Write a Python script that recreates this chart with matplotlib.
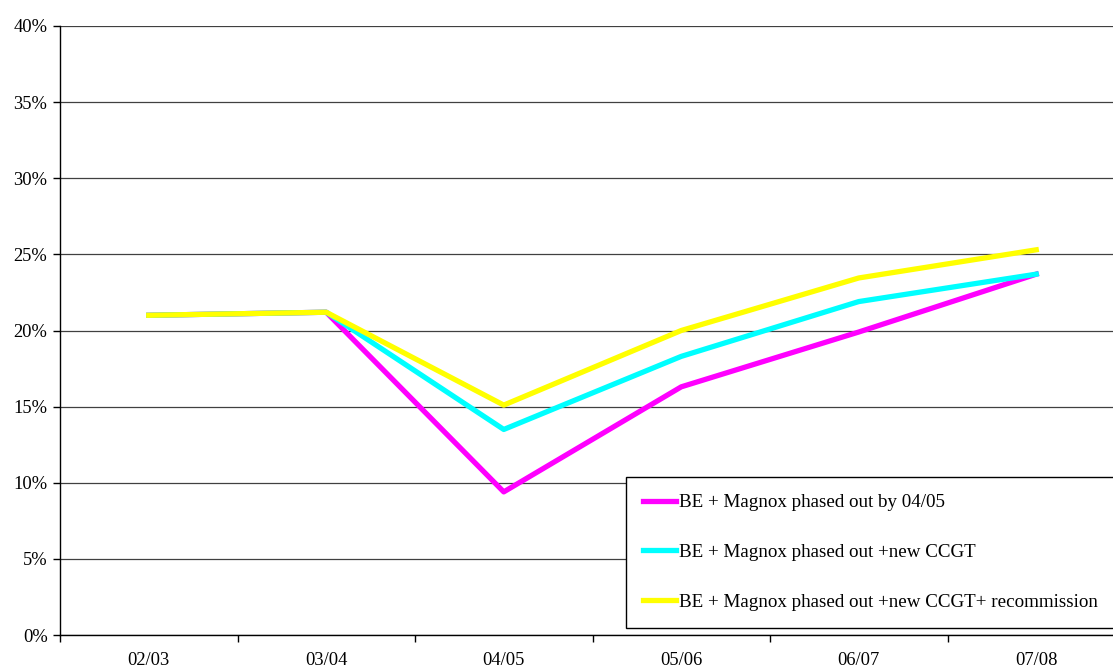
import matplotlib.pyplot as plt

plt.rcParams['font.family'] = ['Liberation Serif', 'DejaVu Serif']

# category labels and series values (percent)
years = ['02/03', '03/04', '04/05', '05/06', '06/07', '07/08']
be_magnox = [21.0, 21.2, 9.4, 16.3, 19.9, 23.7]
be_magnox_ccgt = [21.0, 21.2, 13.5, 18.3, 21.9, 23.7]
be_magnox_ccgt_recomm = [21.0, 21.2, 15.1, 20.0, 23.45, 25.3]

W, H = 1113, 669
fig = plt.figure(figsize=(W / 100, H / 100), dpi=100)
# plot area runs past the right edge of the picture, as in the original
ax = fig.add_axes([60 / W, 34 / H, 1065 / W, 609 / H])

x = [i + 0.5 for i in range(len(years))]
ax.plot(x, be_magnox, color='#FF00FF', lw=3.8, label='BE + Magnox phased out by 04/05')
ax.plot(x, be_magnox_ccgt, color='#00FFFF', lw=3.8, label='BE + Magnox phased out +new CCGT')
ax.plot(x, be_magnox_ccgt_recomm, color='#FFFF00', lw=3.8,
        label='BE + Magnox phased out +new CCGT+ recommission')

ax.set_xlim(0, len(years))
ax.set_ylim(0, 40)
ax.set_yticks(range(0, 41, 5))
ax.set_yticklabels([f'{v}%' for v in range(0, 41, 5)])
ax.set_xticks(range(len(years)))
ax.set_xticklabels([])
ax.set_xticks(x, minor=True)
ax.set_xticklabels(years, minor=True)
ax.tick_params(axis='x', which='minor', length=0, pad=12, labelsize=13.3)
ax.tick_params(axis='x', which='major', length=5, width=1, direction='out')
ax.tick_params(axis='y', length=5, width=1, direction='out', pad=4, labelsize=13.3)

ax.yaxis.grid(True, color='#404040', lw=0.9)
ax.set_axisbelow(True)
for s in ['top', 'right']:
    ax.spines[s].set_visible(False)
ax.spines['left'].set_linewidth(1)
ax.spines['bottom'].set_linewidth(1)

leg = fig.legend(loc='upper left', bbox_to_anchor=(626 / W, 1 - 630 / H, 520 / W, 153 / H),
                 mode='expand', fontsize=13.7, frameon=True, fancybox=False, framealpha=1,
                 handlelength=1.75, handletextpad=0.15, labelspacing=1.7,
                 borderpad=0.9, borderaxespad=0)
leg.get_frame().set_edgecolor('black')
leg.get_frame().set_linewidth(1)
for h in leg.get_lines():
    h.set_linewidth(3.8)

fig.savefig('out.png', dpi=100)
